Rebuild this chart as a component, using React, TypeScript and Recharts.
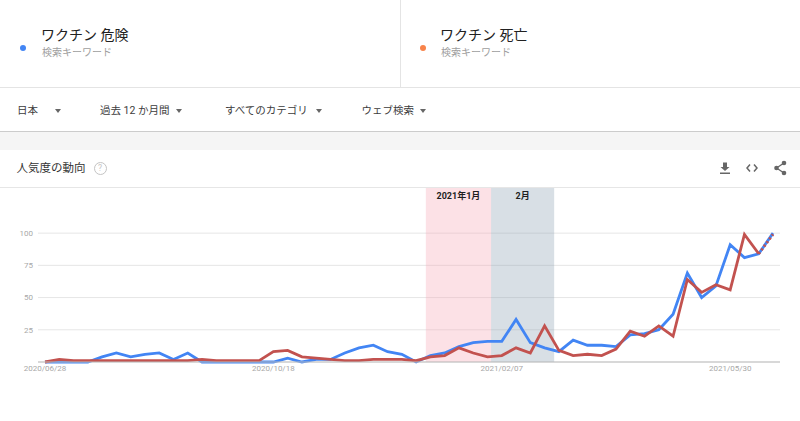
import React from 'react';
import { LineChart, Line, XAxis, YAxis, CartesianGrid, ReferenceArea } from 'recharts';

// weekly index 0..51, starting 2020/06/28
const weekIndex: number[] = Array.from({ length: 52 }, (_, i) => i);

// ワクチン 危険
const dangerValues: number[] = [
  0, 0, 0, 0, 4, 7, 4, 6, 7, 2,
  7, 0, 0, 0, 0, 0, 0, 3, 0, 2,
  2, 7, 11, 13, 8, 6, 0, 5, 7, 12,
  15, 16, 16, 33, 15, 11, 8, 17, 13, 13,
  12, 21, 22, 25, 37, 69, 50, 59, 91, 81,
  84, 100,
];

// ワクチン 死亡
const deathValues: number[] = [
  0, 2, 1, 1, 1, 1, 1, 1, 1, 1,
  1, 2, 1, 1, 1, 1, 8, 9, 4, 3,
  2, 1, 1, 2, 2, 2, 1, 4, 5, 11,
  7, 4, 5, 11, 7, 28, 9, 5, 6, 5,
  10, 24, 20, 28, 20, 64, 54, 60, 56, 99,
  84, 99,
];

const partialFrom = 50; // last segment is partial data (dotted)

const xTickIndex: number[] = [0, 16, 32, 48];
const xTickLabels: string[] = ['2020/06/28', '2020/10/18', '2021/02/07', '2021/05/30'];
const yTicks: number[] = [25, 50, 75, 100];

const bandLabels: string[] = ['2021年1月', '2月'];
const bandFrom: number[] = [26.68, 31.25];
const bandTo: number[] = [31.25, 35.67];

const filterLabels: string[] = ['日本', '過去 12 か月間', 'すべてのカテゴリ', 'ウェブ検索'];
const termLabels: string[] = ['ワクチン 危険', 'ワクチン 死亡'];

const rows = weekIndex.map((i) => ({
  x: i,
  danger: dangerValues[i],
  death: i <= partialFrom ? deathValues[i] : null,
  deathPartial: i >= partialFrom ? deathValues[i] : null,
}));

const FONT = "Roboto, 'Noto Sans CJK JP', sans-serif";

const abs = (s: React.CSSProperties): React.CSSProperties => ({ position: 'absolute', ...s });

const Triangle = ({ cx }: { cx: number }) => (
  <div
    style={abs({
      left: cx - 3.5,
      top: 108.5,
      width: 0,
      height: 0,
      borderLeft: '3.5px solid transparent',
      borderRight: '3.5px solid transparent',
      borderTop: '4px solid #666',
    })}
  />
);

export default function App() {
  const filterLeft = [17, 100, 225, 361.5];
  const triX = [58.5, 179.3, 319.3, 423.3];
  return (
    <div
      style={abs({
        left: 0,
        top: 0,
        width: 800,
        height: 421,
        background: '#fff',
        overflow: 'hidden',
        fontFamily: FONT,
      })}
    >
      {/* term cards */}
      <div style={abs({ left: 20.3, top: 45.3, width: 6, height: 6, borderRadius: 3, background: '#4285f4' })} />
      <div style={abs({ left: 41, top: 25, fontSize: 14, lineHeight: '20px', color: '#212121', whiteSpace: 'nowrap' })}>
        {termLabels[0]}
      </div>
      <div style={abs({ left: 42, top: 45.5, fontSize: 10, lineHeight: '13px', color: '#9e9e9e', whiteSpace: 'nowrap' })}>
        検索キーワード
      </div>
      <div style={abs({ left: 400, top: 0, width: 1, height: 87, background: '#e4e4e4' })} />
      <div style={abs({ left: 419.5, top: 45.3, width: 6, height: 6, borderRadius: 3, background: '#f8834a' })} />
      <div style={abs({ left: 440, top: 25, fontSize: 14, lineHeight: '20px', color: '#212121', whiteSpace: 'nowrap' })}>
        {termLabels[1]}
      </div>
      <div style={abs({ left: 441, top: 45.5, fontSize: 10, lineHeight: '13px', color: '#9e9e9e', whiteSpace: 'nowrap' })}>
        検索キーワード
      </div>
      <div style={abs({ left: 0, top: 87, width: 800, height: 1, background: '#e4e4e4' })} />

      {/* filter row */}
      {filterLabels.map((t, i) => (
        <div
          key={t}
          style={abs({ left: filterLeft[i], top: 103.5, fontSize: 10.5, lineHeight: '14px', color: '#3c3c3c', whiteSpace: 'nowrap' })}
        >
          {t}
        </div>
      ))}
      {triX.map((x) => (
        <Triangle key={x} cx={x} />
      ))}
      <div style={abs({ left: 0, top: 131, width: 800, height: 1, background: '#cccccc' })} />
      <div style={abs({ left: 0, top: 132, width: 800, height: 18, background: '#f5f5f5' })} />

      {/* card header */}
      <div style={abs({ left: 16.5, top: 160.5, fontSize: 11.5, lineHeight: '15px', color: '#333', whiteSpace: 'nowrap' })}>
        人気度の動向
      </div>
      <div
        style={abs({
          left: 93.5,
          top: 161.5,
          width: 11,
          height: 11,
          borderRadius: '50%',
          border: '1px solid #c4c4c4',
          color: '#c4c4c4',
          fontSize: 8.5,
          lineHeight: '11px',
          textAlign: 'center',
          fontFamily: 'Roboto, sans-serif',
        })}
      >
        ?
      </div>
      <svg style={abs({ left: 718, top: 161 })} width={14} height={14} viewBox="0 0 14 14">
        <path d="M5 1.5 H9 V6 H11.5 L7 10 L2.5 6 H5 Z" fill="#666" />
        <rect x={2} y={11.5} width={10} height={1.5} fill="#666" />
      </svg>
      <svg style={abs({ left: 745, top: 161 })} width={14} height={14} viewBox="0 0 14 14">
        <polyline points="5,3.5 2,7 5,10.5" fill="none" stroke="#666" strokeWidth={1.5} />
        <polyline points="9,3.5 12,7 9,10.5" fill="none" stroke="#666" strokeWidth={1.5} />
      </svg>
      <svg style={abs({ left: 773, top: 160 })} width={15} height={16} viewBox="0 0 15 16">
        <line x1={11} y1={3} x2={3.5} y2={8} stroke="#666" strokeWidth={1.4} />
        <line x1={11} y1={13} x2={3.5} y2={8} stroke="#666" strokeWidth={1.4} />
        <circle cx={11} cy={3} r={2.3} fill="#666" />
        <circle cx={3.5} cy={8} r={2.3} fill="#666" />
        <circle cx={11} cy={13} r={2.3} fill="#666" />
      </svg>

      {/* chart */}
      <div style={abs({ left: 0, top: 187 })}>
        <LineChart width={800} height={234} data={rows} margin={{ top: 0, right: 20, bottom: 39, left: 0 }}>
          <CartesianGrid vertical={false} stroke="#e6e6e6" strokeWidth={1} />
          {bandLabels.map((lab, i) => (
            <ReferenceArea
              key={lab}
              x1={bandFrom[i]}
              x2={bandTo[i]}
              fill={i === 0 ? '#f7a8b8' : '#8fa3b5'}
              fillOpacity={0.35}
              stroke="none"
              label={{
                value: lab,
                position: 'insideTop',
                offset: 6,
                fill: '#1f1f1f',
                fontSize: 9,
                fontWeight: 'bold',
                fontFamily: FONT,
              }}
            />
          ))}
          <XAxis
            dataKey="x"
            type="number"
            domain={[-0.49, 51.49]}
            ticks={xTickIndex}
            tickFormatter={(v: number) => xTickLabels[xTickIndex.indexOf(v)] ?? ''}
            tickLine={false}
            tickSize={0}
            tickMargin={3}
            height={20}
            axisLine={{ stroke: '#bdbdbd', strokeWidth: 1 }}
            tick={{ fontSize: 8, fill: '#a8a8a8', fontFamily: 'Roboto, sans-serif' }}
            interval={0}
          />
          <YAxis
            type="number"
            domain={[0, 135.8]}
            ticks={yTicks}
            width={38}
            tickLine={false}
            axisLine={false}
            tickSize={3}
            tickMargin={2}
            tick={{ fontSize: 8, fill: '#a8a8a8', fontFamily: 'Roboto, sans-serif' }}
            interval={0}
          />
          <Line
            type="linear"
            dataKey="danger"
            stroke="#4285f4"
            strokeWidth={2.8}
            dot={false}
            activeDot={false}
            isAnimationActive={false}
          />
          <Line
            type="linear"
            dataKey="death"
            stroke="#c2524f"
            strokeWidth={2.8}
            dot={false}
            activeDot={false}
            isAnimationActive={false}
          />
          <Line
            type="linear"
            dataKey="deathPartial"
            stroke="#c2524f"
            strokeWidth={2.8}
            strokeDasharray="2 2.5"
            dot={false}
            activeDot={false}
            isAnimationActive={false}
          />
        </LineChart>
      </div>
      <div style={abs({ left: 0, top: 187, width: 800, height: 1, background: '#e6e6e6' })} />
    </div>
  );
}
